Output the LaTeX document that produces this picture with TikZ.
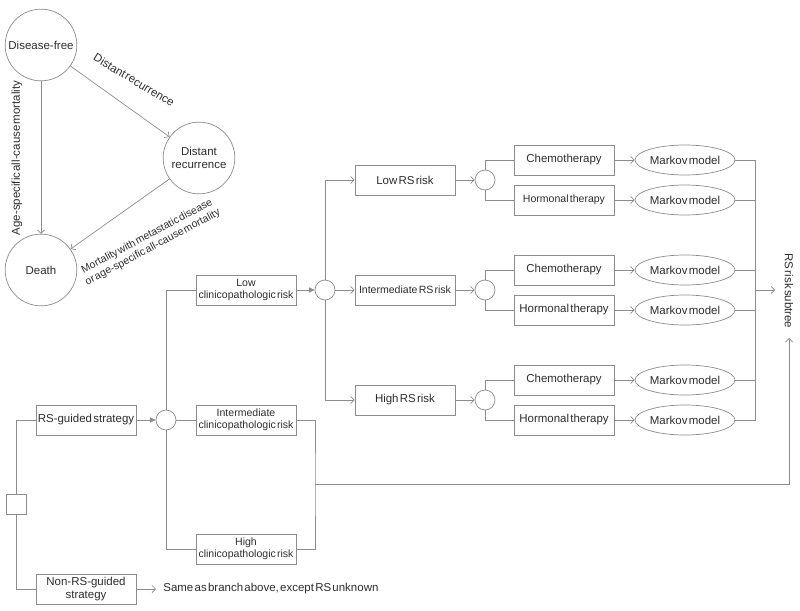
\documentclass[tikz,border=0pt]{standalone}
\usepackage{fontspec}
\setmainfont{Liberation Sans}[WordSpace=0.4]
\usetikzlibrary{arrows.meta, calc, positioning, shapes.geometric}
\definecolor{linegray}{RGB}{140,140,140}
\definecolor{inkgray}{RGB}{45,45,45}

\tikzset{
  state/.style={circle, draw, minimum size=2.15cm, inner sep=0pt, align=center},
  box/.style={rectangle, draw, minimum width=3cm, minimum height=0.9cm, inner sep=1pt, align=center},
  chance/.style={circle, draw, minimum size=0.6cm, inner sep=0pt},
  decision/.style={rectangle, draw, minimum size=0.6cm, inner sep=0pt},
  markov/.style={ellipse, draw, minimum width=3cm, minimum height=0.9cm, inner sep=0pt},
  barb/.style={-{Straight Barb[length=3pt, width=6pt]}},
  tri/.style={-{Triangle[length=5pt, width=4.5pt]}},
  smalltext/.style={font=\fontsize{9}{10.5}\selectfont},
}

\begin{document}
\begin{tikzpicture}[x=0.03cm, y=-0.03cm, color=linegray, text=inkgray, line width=0.6pt,
    font=\fontsize{9.8}{11.5}\selectfont]
  \useasboundingbox (0,0) rectangle (800,611);

  % Markov states and transitions
  \node[state] (df) at (41,45) {Disease-free};
  \node[state] (dr) at (199,158) {Distant\\recurrence};
  \node[state] (death) at (41,270) {Death};
  \draw[barb] (df) -- (death);
  \draw[barb] (df) -- (dr);
  \draw[barb] (dr) -- (death);
  \node[rotate=90] (allcause) at (17,158) {Age-specific all-cause mortality};
  \node[rotate=-31] (recur) at (134,80) {Distant recurrence};
  \node[rotate=28, align=center, smalltext] (metmort) at (150,242)
    {Mortality with metastatic disease\\or age-specific all-cause mortality};

  % Decision node and the two strategies
  \node[decision] (dec) at (16,504) {};
  \node[box] (rsg) at (86,420) {RS-guided strategy};
  \node[box] (nrsg) at (86,589) {Non-RS-guided\\strategy};
  \node[anchor=west, inner sep=6pt] (same) at (156,589) {Same as branch above, except RS unknown};
  \draw (dec.north) |- (rsg);
  \draw (dec.south) |- (nrsg);
  \draw[barb] (nrsg) -- (same);

  % Clinicopathologic risk
  \node[chance] (cp) at (166,420) {};
  \draw[tri] (rsg) -- (cp);
  \node[box, smalltext] (lowcp) at (246,290) {Low\\clinicopathologic risk};
  \node[box, smalltext] (intcp) at (246,420) {Intermediate\\clinicopathologic risk};
  \node[box, smalltext] (highcp) at (246,549) {High\\clinicopathologic risk};
  \draw (cp.north) |- (lowcp);
  \draw (cp) -- (intcp);
  \draw (cp.south) |- (highcp);
  \coordinate (cpjoin) at (315,484);
  \coordinate (subtree) at (789,338);
  \draw (intcp) -| (cpjoin) |- (highcp);
  \draw[barb] (cpjoin) -| (subtree);

  % RS risk
  \node[chance] (rs) at (325,290) {};
  \draw[tri] (lowcp) -- (rs);
  \node[box] (lowrs) at (405,180) {Low RS risk};
  \node[box, smalltext] (intrs) at (405,290) {Intermediate RS risk};
  \node[box] (highrs) at (405,400) {High RS risk};
  \draw[barb] (rs.north) |- (lowrs);
  \draw[barb] (rs) -- (intrs);
  \draw[barb] (rs.south) |- (highrs);

  % Treatment after low RS risk
  \node[chance] (tlow) at (485,180) {};
  \node[box] (chemolow) at (564,160) {Chemotherapy};
  \node[box, smalltext] (hormlow) at (564,200) {Hormonal therapy};
  \node[markov] (mkchemolow) at (685,160) {Markov model};
  \node[markov] (mkhormlow) at (685,200) {Markov model};
  \draw[barb] (lowrs) -- (tlow);
  \draw (tlow.north) |- (chemolow);
  \draw (tlow.south) |- (hormlow);
  \draw[barb] (chemolow) -- (mkchemolow);
  \draw[barb] (hormlow) -- (mkhormlow);

  % Treatment after intermediate RS risk
  \node[chance] (tint) at (485,290) {};
  \node[box] (chemoint) at (564,270) {Chemotherapy};
  \node[box] (hormint) at (564,310) {Hormonal therapy};
  \node[markov] (mkchemoint) at (685,270) {Markov model};
  \node[markov] (mkhormint) at (685,310) {Markov model};
  \draw[barb] (intrs) -- (tint);
  \draw (tint.north) |- (chemoint);
  \draw (tint.south) |- (hormint);
  \draw[barb] (chemoint) -- (mkchemoint);
  \draw[barb] (hormint) -- (mkhormint);

  % Treatment after high RS risk
  \node[chance] (thigh) at (485,400) {};
  \node[box] (chemohigh) at (564,380) {Chemotherapy};
  \node[box] (hormhigh) at (564,420) {Hormonal therapy};
  \node[markov] (mkchemohigh) at (685,380) {Markov model};
  \node[markov] (mkhormhigh) at (685,420) {Markov model};
  \draw[barb] (highrs) -- (thigh);
  \draw (thigh.north) |- (chemohigh);
  \draw (thigh.south) |- (hormhigh);
  \draw[barb] (chemohigh) -- (mkchemohigh);
  \draw[barb] (hormhigh) -- (mkhormhigh);

  % Markov models merge into the RS risk subtree
  \coordinate (merge) at (755,290);
  \coordinate (mergeout) at (775,290);
  \draw (mkchemolow) -| (merge);
  \draw (mkhormlow) -| (merge);
  \draw (mkchemoint) -| (merge);
  \draw (mkhormint) -| (merge);
  \draw (mkchemohigh) -| (merge);
  \draw (mkhormhigh) -| (merge);
  \draw[barb] (merge) -- (mergeout);
  \node[rotate=-90] (subtreelbl) at (789,291) {RS risk subtree};
\end{tikzpicture}
\end{document}
